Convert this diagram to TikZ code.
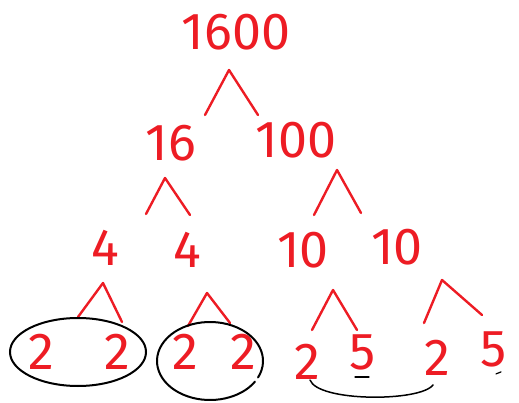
\documentclass[tikz,border=0pt]{standalone}
\usepackage{fontspec}
\usetikzlibrary{calc}
\newfontfamily\handfont{Fira Sans}
\definecolor{penred}{RGB}{237,28,36}
\tikzset{
  num/.style={text=penred, inner sep=0pt, font=\handfont\fontsize{52}{52}\selectfont},
  caret/.style={draw=penred, line width=2.4pt, line cap=round, line join=round},
  loop/.style={draw=black, line width=2pt, line cap=round}
}

\begin{document}
\begin{tikzpicture}[x=1pt, y=1pt]
        \useasboundingbox (0,0) rectangle (519,402);
        % the numbers
        \node[num] (n1600) at (236,370) {1600};
        \node[num] (n16) at (171,259) {16};
        \node[num] (n100) at (296,262) {100};
        \node[num] (n4a) at (105,154) {4};
        \node[num] (n4b) at (187,152) {4};
        \node[num] (n10a) at (303,152) {10};
        \node[num] (n10b) at (397,155) {10};
        \node[num] (p1) at (41,50) {2};
        \node[num] (p2) at (117,50) {2};
        \node[num] (p3) at (185,50) {2};
        \node[num] (p4) at (243,50) {2};
        \node[num] (p5) at (307,40) {2};
        \node[num] (p6) at (363,50) {5};
        \node[num] (p7) at (437,44) {2};
        \node[num] (p8) at (494,53) {5};
        % the carets
        \foreach \c/\t/\l/\r in {c1/{229,332}/{205,287}/{258,287},
                                 c16/{165,224}/{146,188}/{190,187},
                                 c100/{337,232}/{314,187}/{361,189},
                                 c4a/{103,119}/{78,85}/{122,80},
                                 c4b/{207,109}/{188,76}/{230,79},
                                 c10a/{333,112}/{312,72}/{357,72},
                                 c10b/{442,122}/{424,79}/{482,87}} {
            \coordinate (\c-t) at (\t);
            \coordinate (\c-l) at (\l);
            \coordinate (\c-r) at (\r);
            \draw[caret] (\c-l) -- (\c-t) -- (\c-r);
        }
        % circled pairs
        \draw[loop] (78,50) ellipse [x radius=68pt, y radius=34pt];
        \draw[loop] ($(210,41)+(-25:53pt and 39pt)$) arc [start angle=-25, end angle=328, x radius=53pt, y radius=39pt];
        % the swoop under 2 ... 2
        \coordinate (s1) at (310,22);
        \coordinate (s2) at (433,17);
        \draw[loop, line width=1.5pt] (s1) .. controls (318,0) and (420,0) .. (s2);
        % little strokes under the fives
        \draw[loop, line width=1.2pt] ([xshift=-8pt, yshift=-7pt]p6.south) -- ([xshift=6pt, yshift=-7pt]p6.south);
        \draw[loop, line width=1.2pt] ([xshift=2pt, yshift=-7pt]p8.south) -- ([xshift=7pt, yshift=-5pt]p8.south);
\end{tikzpicture}
\end{document}
